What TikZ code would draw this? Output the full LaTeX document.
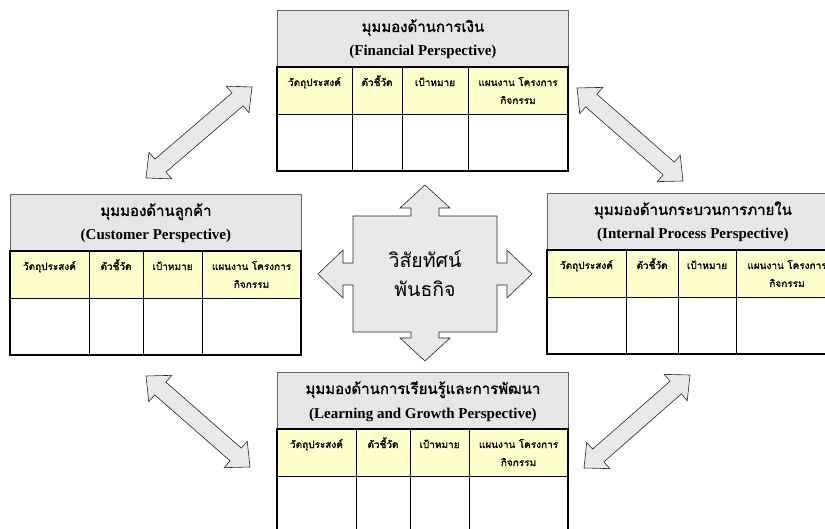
\documentclass[tikz,border=0pt]{standalone}
\usepackage{fontspec}
\setmainfont{Liberation Serif}
\newfontfamily\thaifont[Script=Thai, AutoFakeBold=1.5]{Loma}
\usetikzlibrary{calc}

\definecolor{headgray}{RGB}{230,230,230}
\definecolor{rowyellow}{RGB}{255,255,204}
\definecolor{arrowgray}{RGB}{233,233,233}

\begin{document}
\begin{tikzpicture}[x=1pt, y=-1pt,
    headbox/.style={draw=black!60, line width=0.8pt, fill=headgray, minimum width=291pt, minimum height=57pt, anchor=north west, inner sep=0pt},
    titlethai/.style={anchor=base, inner sep=0pt, font=\thaifont\bfseries\fontsize{15}{17}\selectfont},
    titleeng/.style={anchor=base, inner sep=0pt, font=\bfseries\fontsize{15}{17}\selectfont},
    colhead/.style={anchor=base, inner sep=0pt, font=\thaifont\bfseries\fontsize{10}{12}\selectfont},
    centretext/.style={anchor=base, inner sep=0pt, font=\thaifont\fontsize{19.5}{22}\selectfont},
    blockarrow/.style={draw=black!85, line width=0.6pt, fill=arrowgray, line join=miter}]

    \useasboundingbox (0,0) rectangle (825,529);
    \clip (0,0) rectangle (825,529);

    % the four perspectives
    \foreach \n/\x/\y/\a/\b/\c/\th/\en in {
        fin/277/10/75/125/191/{มุมมองด้านการเงิน}/{(Financial Perspective)},
        cus/10/194/79/133/192/{มุมมองด้านลูกค้า}/{(Customer Perspective)},
        int/547/193/79/131/189/{มุมมองด้านกระบวนการภายใน}/{(Internal Process Perspective)},
        lea/277/372/79/133/192/{มุมมองด้านการเรียนรู้และการพัฒนา}/{(Learning and Growth Perspective)}}
    {
        \node[headbox] (\n-head) at (\x,\y) {};
        \node[titlethai] (\n-th) at ($(\n-head.north)+(0,22)$) {\th};
        \node[titleeng] (\n-en) at ($(\n-head.north)+(0,46)$) {\en};

        \fill[rowyellow] (\x,\y+57) rectangle (\x+291,\y+104.5);
        \draw[line width=0.8pt] (\x,\y+104.5) -- (\x+291,\y+104.5);
        \foreach \d in {\a,\b,\c}
            \draw[line width=0.8pt] (\x+\d,\y+57) -- (\x+\d,\y+161);
        \draw[line width=2.6pt] (\x,\y+57) rectangle (\x+291,\y+161);

        \node[colhead] (\n-c1) at (\x+\a/2,\y+76) {วัตถุประสงค์};
        \node[colhead] (\n-c2) at (\x+\a/2+\b/2,\y+76) {ตัวชี้วัด};
        \node[colhead] (\n-c3) at (\x+\b/2+\c/2,\y+76) {เป้าหมาย};
        \node[colhead] (\n-c4) at (\x+\c/2+145.5,\y+76) {แผนงาน โครงการ};
        \node[colhead] (\n-c4b) at (\x+\c/2+145.5,\y+94) {กิจกรรม};
    }

    % centre cross
    \filldraw[blockarrow] (425,185) -- (450,208) -- (439,208) -- (439,216) -- (497,216)
        -- (497,263) -- (507,263) -- (507,250) -- (532,274) -- (507,298) -- (507,285)
        -- (497,285) -- (497,332) -- (439,332) -- (439,338) -- (450,338) -- (425,361)
        -- (400,338) -- (411,338) -- (411,332) -- (353,332) -- (353,285) -- (343,285)
        -- (343,298) -- (318,274) -- (343,250) -- (343,263) -- (353,263) -- (353,216)
        -- (411,216) -- (411,208) -- (400,208) -- cycle;
    \node[centretext] (vision) at (425,268) {วิสัยทัศน์};
    \node[centretext] (mission) at (425,297) {พันธกิจ};

    % double arrows between the perspectives
    \coordinate (tla) at (146,178);
    \coordinate (tlb) at (252,87);
    \coordinate (tra) at (577,88);
    \coordinate (trb) at (683,181);
    \coordinate (bla) at (146,376);
    \coordinate (blb) at (250,467);
    \coordinate (bra) at (690,375);
    \coordinate (brb) at (584,468);

    \foreach \s/\e in {tla/tlb, tra/trb, bla/blb, bra/brb}
        \filldraw[blockarrow] (\s) -- ($(\s)!19pt!(\e)!17.5pt!90:(\e)$) -- ($(\s)!19pt!(\e)!8.5pt!90:(\e)$)
            -- ($(\e)!19pt!(\s)!8.5pt!270:(\s)$) -- ($(\e)!19pt!(\s)!17.5pt!270:(\s)$) -- (\e)
            -- ($(\e)!19pt!(\s)!17.5pt!90:(\s)$) -- ($(\e)!19pt!(\s)!8.5pt!90:(\s)$)
            -- ($(\s)!19pt!(\e)!8.5pt!270:(\e)$) -- ($(\s)!19pt!(\e)!17.5pt!270:(\e)$) -- cycle;

\end{tikzpicture}
\end{document}
